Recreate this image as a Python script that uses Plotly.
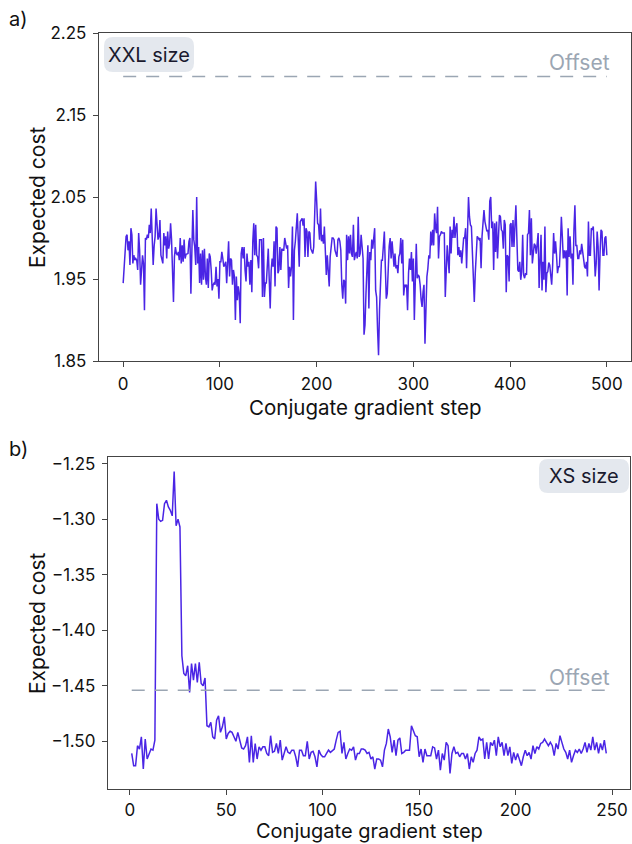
import plotly.graph_objects as go

# ---------------- data ----------------
cost_xxl = [
    1.945, 1.969, 1.993, 2.002, 2.004, 1.985, 1.996, 1.967, 2.012, 2.004,
    1.969, 1.979, 1.973, 1.975, 1.973, 1.961, 2.006, 1.985, 1.943, 1.965,
    1.979, 1.969, 1.912, 2.000, 1.998, 2.004, 2.000, 2.016, 2.006, 2.036,
    2.010, 1.967, 1.990,
    2.002, 2.036, 2.006, 1.998, 2.002, 2.022, 1.979, 1.975, 1.969, 2.006,
    1.991, 2.002, 1.975, 2.008, 1.987, 1.993, 2.018, 1.998, 1.969, 1.922,
    1.977, 1.989, 1.981, 1.979, 1.983, 1.973, 2.000, 1.969, 1.991, 1.971,
    1.998, 1.975, 1.980,
    1.981, 1.981, 1.996, 2.000, 1.932, 2.000, 2.034, 1.998, 1.989, 1.967,
    2.050, 1.969, 1.989, 1.945, 1.981, 1.943, 1.985, 1.949, 1.987, 1.953,
    1.943, 1.975, 1.939, 1.981, 1.977, 1.961, 1.936, 1.943, 1.945, 1.943,
    1.965, 1.941, 1.950,
    1.926, 1.971, 1.971, 1.983, 1.975, 1.965, 1.967, 1.971, 1.945, 1.975,
    1.996, 1.953, 1.975, 1.973, 1.943, 1.961, 1.953, 1.900, 1.953, 1.924,
    1.941, 1.932, 1.896, 1.981, 1.989, 1.975,
    1.989, 1.961, 1.947, 1.981, 1.965, 1.971, 1.943, 1.973, 1.934, 1.996,
    2.018, 1.979, 2.016, 1.979, 1.977, 1.963, 1.998, 1.998, 1.998, 1.928,
    2.000, 1.928, 1.945, 1.945, 1.967, 1.987, 1.949, 1.914, 1.960,
    1.975, 1.965, 1.996, 1.941, 2.014, 2.012, 1.957, 1.961, 1.989, 1.961,
    1.987, 1.985, 1.985, 2.000, 1.993, 1.987, 1.991, 1.939, 1.965, 1.953,
    1.965, 2.014, 1.900, 1.985, 1.996, 2.018, 2.030, 1.998, 1.965, 2.020,
    2.022, 2.024, 2.015,
    2.024, 1.977, 2.012, 2.008, 1.977, 2.008, 2.006, 1.987, 1.983, 1.981,
    1.989, 2.024, 2.069, 2.046, 2.018, 2.016, 1.998, 2.036, 1.996, 2.004,
    1.993, 2.014, 1.985, 1.955, 1.979, 1.961, 1.941, 1.977, 1.993, 2.000,
    2.000, 1.998, 1.985,
    1.979, 1.977, 1.998, 2.000, 1.996, 1.985, 1.943, 1.926, 1.949, 1.947,
    1.920, 2.004, 1.973, 2.002, 1.981, 2.004, 1.981, 1.977, 2.016, 1.973,
    1.979, 1.983, 1.975, 2.026, 1.977, 1.981, 2.004, 1.989, 1.975, 1.882,
    1.894, 1.932, 1.960, 1.991, 1.914,
    1.983, 1.973, 1.998, 1.987, 1.998, 2.012, 1.936, 1.928, 1.888, 1.857,
    1.912, 1.961, 1.973, 1.973, 1.989, 2.008, 1.965, 1.926, 1.932, 1.977,
    1.990,
    2.000, 1.975, 1.996, 1.977, 1.965, 1.981, 1.963, 1.967, 1.957, 1.977,
    1.981, 2.000, 1.969, 1.998, 1.930, 1.943, 1.941, 1.943, 1.912, 1.957,
    1.975, 1.961, 1.983, 1.947, 1.975, 1.900, 1.965, 1.993, 1.951, 1.955,
    1.953, 1.943, 1.925,
    1.916, 1.934, 1.943, 1.871, 1.930, 1.953, 1.963, 1.979, 1.975, 2.008,
    1.991, 2.010, 1.991, 2.030, 2.012, 2.006, 2.038, 1.975, 2.002, 2.004,
    2.008, 2.006, 2.006, 2.006, 1.928, 1.977, 1.991, 1.973, 1.957, 2.014,
    1.981, 2.010, 2.000,
    2.026, 2.000, 2.012, 2.018, 1.979, 1.989, 1.977, 1.985, 1.969, 1.991,
    2.000, 2.000, 2.012, 1.963, 2.010, 2.050, 2.026, 2.016, 2.014, 1.985,
    1.953, 1.922, 1.957, 1.975, 2.002, 2.000, 1.998, 2.000, 1.963, 2.002,
    2.024, 2.034, 2.020,
    2.012, 2.008, 2.010, 1.998, 2.045, 2.050, 2.012, 2.020,
    1.961, 2.018, 1.983, 2.020, 1.975, 2.002, 2.028, 2.026, 2.010, 2.008,
    1.987, 2.022, 2.016, 1.934, 1.979, 1.977, 1.947, 2.016, 2.018, 1.989,
    2.022, 1.989, 2.028, 2.040, 2.000,
    1.961, 1.959, 1.971, 1.949, 1.959, 2.004, 1.955, 1.951, 1.957, 1.955,
    2.004, 2.006, 2.034, 1.979, 2.024, 1.969, 1.987, 1.993, 1.991, 1.981,
    1.993, 2.006, 1.939, 1.969, 2.004, 1.936, 1.971, 1.949, 2.014, 1.934,
    1.957, 1.959, 1.970,
    1.967, 1.957, 1.943, 1.967, 2.006, 1.981, 1.996, 1.979, 1.957, 1.965,
    1.965, 1.991, 2.026, 2.002, 1.975, 1.985, 1.975, 1.985, 1.930, 2.012,
    1.977, 2.002, 1.975, 1.981, 1.943, 2.010, 2.040, 1.991, 1.991, 1.975,
    1.975, 1.985, 1.980,
    1.993, 1.981, 1.975, 1.965, 1.963, 1.971, 1.953, 2.020, 1.979, 1.979,
    2.012, 2.010, 2.014, 1.981, 1.953, 1.969, 2.008, 1.990,
    1.936, 1.981, 2.010, 2.008, 1.979, 1.979, 2.000, 2.002, 1.979,
]

cost_xs = [
    -1.511, -1.522, -1.522, -1.504, -1.507, -1.496, -1.525, -1.498, -1.516, -1.511,
    -1.507, -1.508, -1.499, -1.286, -1.300, -1.302, -1.301, -1.286, -1.283, -1.289,
    -1.292, -1.297, -1.257, -1.306, -1.300, -1.307, -1.423, -1.439, -1.441, -1.432,
    -1.456, -1.430, -1.445, -1.430, -1.447, -1.429, -1.448, -1.450, -1.443, -1.486,
    -1.487, -1.483, -1.496, -1.498, -1.481, -1.477, -1.492, -1.487, -1.478, -1.498,
    -1.493, -1.491, -1.492, -1.496, -1.500, -1.492,
    -1.499, -1.506, -1.507, -1.504, -1.496, -1.519, -1.495, -1.519, -1.502, -1.516,
    -1.505, -1.508, -1.505, -1.505, -1.511, -1.513, -1.495, -1.510, -1.509, -1.502,
    -1.511, -1.499, -1.517, -1.510, -1.505, -1.510, -1.511, -1.508, -1.508, -1.514,
    -1.523, -1.508, -1.508, -1.513, -1.513, -1.500, -1.516, -1.510, -1.509, -1.514,
    -1.523, -1.508, -1.512, -1.514, -1.514, -1.511, -1.508, -1.510, -1.508, -1.507,
    -1.499, -1.492, -1.491, -1.511, -1.501, -1.516, -1.511, -1.507, -1.508, -1.505,
    -1.517, -1.511, -1.511, -1.507, -1.507, -1.508, -1.511, -1.510, -1.516, -1.514,
    -1.525, -1.516, -1.516, -1.517, -1.523, -1.508, -1.502, -1.489, -1.496, -1.510,
    -1.499, -1.513, -1.499, -1.497, -1.511, -1.510, -1.508, -1.508, -1.508, -1.486,
    -1.490, -1.495, -1.496, -1.514, -1.507, -1.519, -1.507, -1.513, -1.513, -1.513,
    -1.505, -1.506, -1.516,
    -1.508, -1.526, -1.511, -1.517, -1.501, -1.504, -1.529, -1.511, -1.505, -1.511,
    -1.510, -1.514, -1.511, -1.511, -1.516, -1.511, -1.525, -1.514, -1.519, -1.511,
    -1.508, -1.496, -1.499, -1.498, -1.516, -1.501, -1.516, -1.501, -1.504, -1.499,
    -1.513, -1.496, -1.505, -1.501, -1.513, -1.502, -1.513, -1.505, -1.520, -1.510,
    -1.517, -1.511, -1.516, -1.522, -1.514, -1.508, -1.513, -1.510, -1.516, -1.504,
    -1.511, -1.505, -1.507, -1.502, -1.501, -1.498, -1.501, -1.504, -1.501, -1.504,
    -1.513, -1.502, -1.507, -1.495, -1.501, -1.507, -1.510, -1.516, -1.508, -1.519,
    -1.513, -1.508, -1.510, -1.507, -1.511, -1.507, -1.501, -1.510, -1.502, -1.508,
    -1.496, -1.508, -1.501, -1.511, -1.502, -1.508, -1.499, -1.511,
]

offset_xxl = 2.197
offset_xs = -1.454

xxl_steps_end = 500
xs_first_step = 1
xs_last_step = 247

xticks_a = [0, 100, 200, 300, 400, 500]
yticks_a = [1.85, 1.95, 2.05, 2.15, 2.25]
xticks_b = [0, 50, 100, 150, 200, 250]
yticks_b = [-1.50, -1.45, -1.40, -1.35, -1.30, -1.25]

# ---------------- style ----------------
W, H = 632, 844
LINE = "#4a25e5"
OFFC = "#9ba6b3"
FRAME = "#444444"
FONT = "Inter"


def fx(p):
    return p / W


def fy(p):
    return 1 - p / H


def rbox(x0, y0, x1, y1, r):
    def P(x, y):
        return f"{fx(x):.5f},{fy(y):.5f}"
    return (f"M {P(x0 + r, y0)} L {P(x1 - r, y0)} Q {P(x1, y0)} {P(x1, y0 + r)} "
            f"L {P(x1, y1 - r)} Q {P(x1, y1)} {P(x1 - r, y1)} L {P(x0 + r, y1)} "
            f"Q {P(x0, y1)} {P(x0, y1 - r)} L {P(x0, y0 + r)} Q {P(x0, y0)} {P(x0 + r, y0)} Z")


fig = go.Figure()

fig.add_trace(go.Scatter(y=cost_xxl, x0=0, dx=1, mode="lines",
                         line=dict(color=LINE, width=1.5), xaxis="x", yaxis="y",
                         hoverinfo="skip"))
fig.add_trace(go.Scatter(x=[0, xxl_steps_end], y=[offset_xxl, offset_xxl], mode="lines",
                         line=dict(color=OFFC, width=1.5, dash="13px,10px"),
                         xaxis="x", yaxis="y", hoverinfo="skip"))
fig.add_trace(go.Scatter(y=cost_xs, x0=xs_first_step, dx=1, mode="lines",
                         line=dict(color=LINE, width=1.5), xaxis="x2", yaxis="y2",
                         hoverinfo="skip"))
fig.add_trace(go.Scatter(x=[xs_first_step, xs_last_step], y=[offset_xs, offset_xs], mode="lines",
                         line=dict(color=OFFC, width=1.5, dash="13px,10px"),
                         xaxis="x2", yaxis="y2", hoverinfo="skip"))

axis_common = dict(showgrid=False, zeroline=False, showline=True, linecolor=FRAME,
                   linewidth=1.3, mirror=True, ticks="outside", ticklen=5, tickwidth=1.3,
                   tickcolor=FRAME, automargin=False,
                   tickfont=dict(family=FONT, size=17, color="#111111"))

fig.update_layout(
    width=W, height=H, margin=dict(l=0, r=0, t=0, b=0, autoexpand=False),
    paper_bgcolor="white", plot_bgcolor="white", showlegend=False,
    xaxis=dict(domain=[fx(99), fx(631)], range=[-25, 525], tickvals=xticks_a,
               anchor="y", ticklabelstandoff=2, **axis_common),
    yaxis=dict(domain=[fy(361), fy(33)], range=[1.85, 2.25], tickvals=yticks_a,
               tickformat=".2f", anchor="x", ticklabelstandoff=3, **axis_common),
    xaxis2=dict(domain=[fx(108), fx(630)], range=[-11.3, 259.3], tickvals=xticks_b,
                anchor="y2", ticklabelstandoff=0, **axis_common),
    yaxis2=dict(domain=[fy(789), fy(457)], range=[-1.543, -1.244], tickvals=yticks_b,
                tickformat=".2f", anchor="x2", ticklabelstandoff=3, **axis_common),
)

shapes = [
    dict(type="path", xref="paper", yref="paper", path=rbox(104, 37, 194, 72, 9),
         fillcolor="#e4e8ee", line=dict(width=0), layer="above"),
    dict(type="path", xref="paper", yref="paper", path=rbox(539, 459, 629, 493, 9),
         fillcolor="#e4e8ee", line=dict(width=0), layer="above"),
]
fig.update_layout(shapes=shapes)


def ann(text, x, y, size=20, color="#111111", xanchor="center", yanchor="middle", angle=0):
    return dict(text=text, x=fx(x), y=fy(y), xref="paper", yref="paper", showarrow=False,
                xanchor=xanchor, yanchor=yanchor, textangle=angle, borderpad=0,
                font=dict(family=FONT, size=size, color=color))


annotations = [
    ann("a)", 8, 19, xanchor="left"),
    ann("b)", 8, 449, xanchor="left"),
    ann("XXL size", 149, 55, size=20, color="#1a1a2e"),
    ann("XS size", 584, 476, size=20, color="#1a1a2e"),
    ann("Offset", 611, 63, size=21, color=OFFC, xanchor="right"),
    ann("Offset", 611, 677, size=21, color=OFFC, xanchor="right"),
    ann("Expected cost", 37, 197, size=21, angle=-90),
    ann("Expected cost", 37, 623, size=21, angle=-90),
    ann("Conjugate gradient step", 365, 407, size=20.5),
    ann("Conjugate gradient step", 369, 831, size=20),
]
fig.update_layout(annotations=annotations)

fig.write_html("out.html", config={"displayModeBar": False})
